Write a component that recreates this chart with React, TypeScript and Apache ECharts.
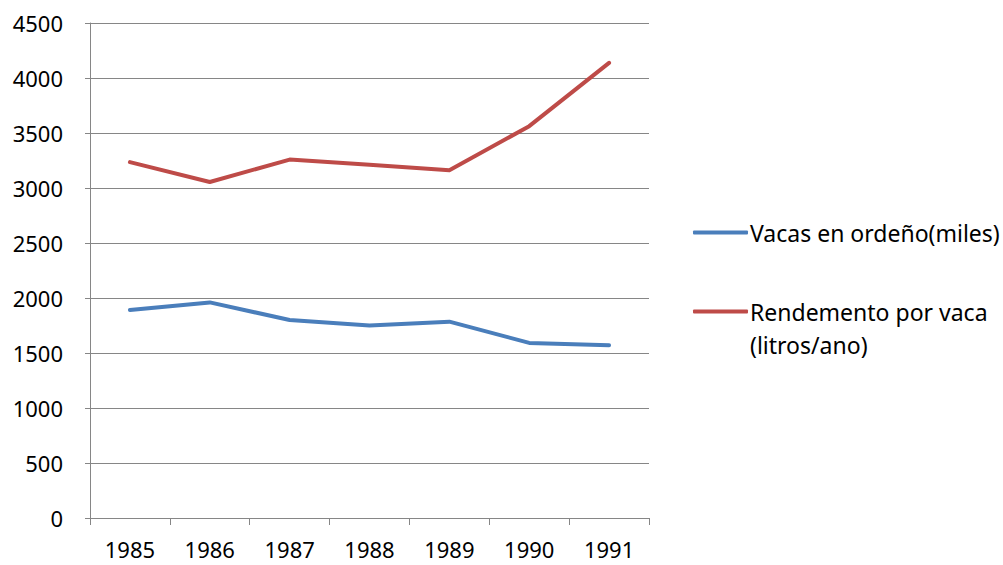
import React, { useEffect, useRef } from "react";
import * as echarts from "echarts";

const years = ["1985", "1986", "1987", "1988", "1989", "1990", "1991"];
const vacas = [1890, 1960, 1800, 1750, 1785, 1592, 1570];
const rendemento = [3235, 3055, 3258, 3212, 3162, 3562, 4138];
const nameVacas = "Vacas en ordeño(miles)";
const nameRend = "Rendemento por vaca (litros/ano)";

const FONT = "Noto Sans";
const GRAY = "#868686";

export default function App() {
  const ref = useRef<HTMLDivElement>(null);
  useEffect(() => {
    const chart = echarts.init(ref.current!, null, { renderer: "svg" });
    chart.setOption({
      animation: false,
      backgroundColor: "#fff",
      textStyle: { fontFamily: FONT },
      grid: { left: 90, right: 354, top: 23, bottom: 47 },
      legend: [
        {
          data: [nameVacas],
          orient: "vertical",
          left: 688,
          top: 216,
          itemWidth: 55,
          itemHeight: 4,
          icon: "roundRect",
          itemGap: 0,
          textStyle: { fontSize: 23, color: "#000", fontFamily: FONT, padding: [0, 0, 0, -3] },
        },
        {
          data: [nameRend],
          orient: "vertical",
          left: 688,
          top: 262,
          itemWidth: 55,
          itemHeight: 4,
          icon: "roundRect",
          formatter: () => "{a| }\n{a|Rendemento por vaca}\n{a|(litros/ano)}",
          textStyle: {
            fontSize: 23,
            color: "#000",
            fontFamily: FONT,
            padding: [0, 0, 0, -3],
            rich: { a: { fontSize: 23, lineHeight: 33, fontFamily: FONT, color: "#000" } },
          },
        },
      ],
      xAxis: {
        type: "category",
        data: years,
        boundaryGap: true,
        axisLine: { lineStyle: { color: GRAY, width: 1 } },
        axisTick: { show: true, length: 7, lineStyle: { color: GRAY } },
        axisLabel: { color: "#000", fontSize: 22, lineHeight: 22, margin: 20, fontFamily: FONT },
      },
      yAxis: {
        type: "value",
        min: 0,
        max: 4500,
        interval: 500,
        axisLine: { show: true, lineStyle: { color: GRAY, width: 1 } },
        axisTick: { show: true, length: 5, lineStyle: { color: GRAY } },
        axisLabel: {
          color: "#000",
          fontSize: 22,
          margin: 27,
          fontFamily: FONT,
          formatter: (v: number) => String(v),
        },
        splitLine: { show: true, lineStyle: { color: GRAY, width: 1 } },
      },
      series: [
        {
          name: nameVacas,
          type: "line",
          data: vacas,
          symbol: "none",
          lineStyle: { width: 4, color: "#4A7EBB", cap: "round", join: "round" },
          itemStyle: { color: "#4A7EBB" },
        },
        {
          name: nameRend,
          type: "line",
          data: rendemento,
          symbol: "none",
          lineStyle: { width: 4, color: "#BE4B48", cap: "round", join: "round" },
          itemStyle: { color: "#BE4B48" },
        },
      ],
    });
    return () => chart.dispose();
  }, []);
  return <div ref={ref} style={{ width: 1003, height: 565, position: "absolute", left: 0, top: 0 }} />;
}
